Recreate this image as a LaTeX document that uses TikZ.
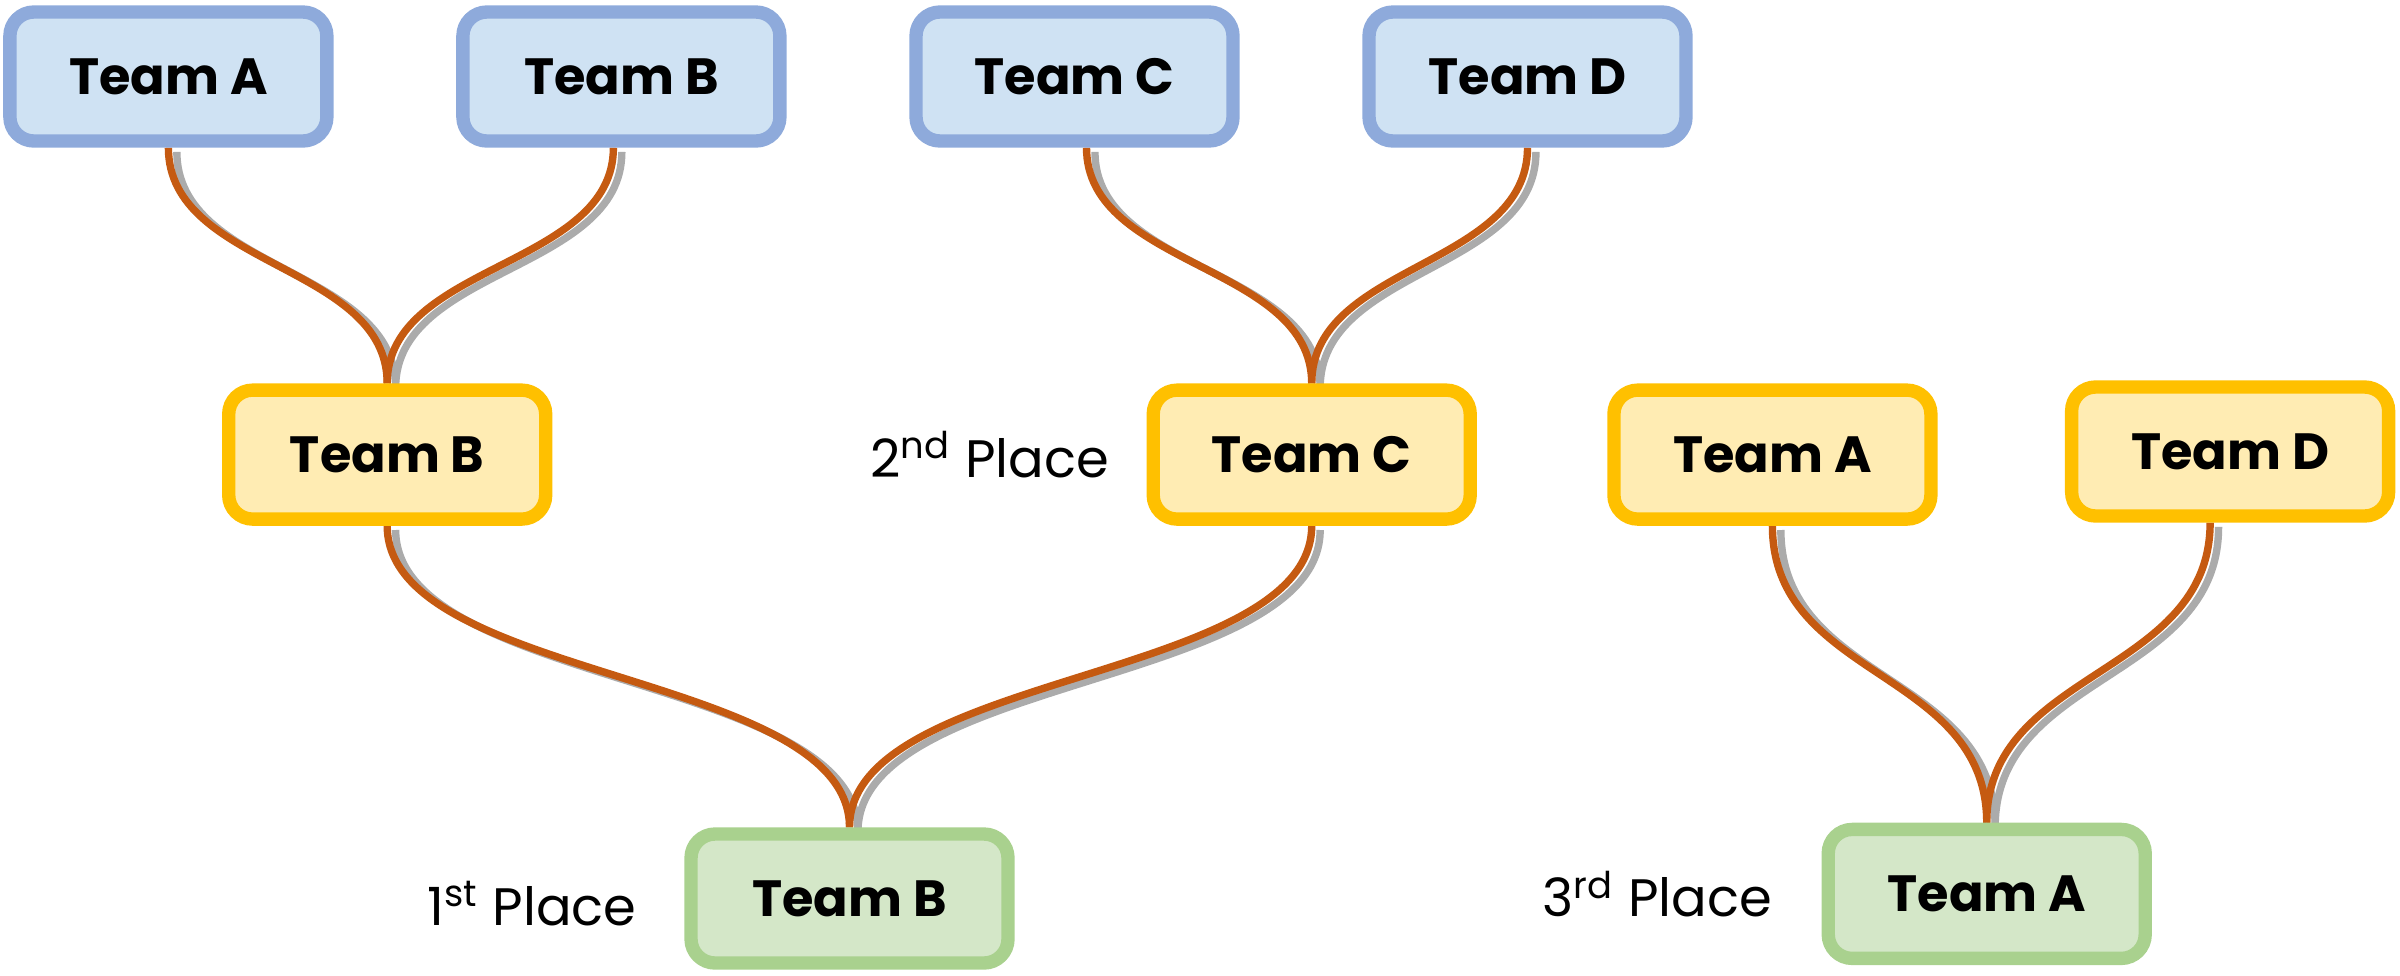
\documentclass[tikz,border=0pt]{standalone}
\usepackage{fontspec}
\setmainfont{Poppins}
\usetikzlibrary{backgrounds}
\definecolor{bluefill}{HTML}{CFE2F3}
\definecolor{blueline}{HTML}{8EAADB}
\definecolor{yelfill}{HTML}{FFECB3}
\definecolor{yelline}{HTML}{FFC000}
\definecolor{grnfill}{HTML}{D4E7C8}
\definecolor{grnline}{HTML}{A9D18E}
\definecolor{linkcol}{HTML}{C55A11}
\definecolor{shadowcol}{HTML}{ABABAB}
\tikzset{
  team/.style={rounded corners=0.24cm, line width=3.8pt, minimum width=3.17cm,
    minimum height=1.29cm, inner sep=0pt, font=\fontsize{14.5}{17}\selectfont\bfseries},
  blueteam/.style={team, draw=blueline, fill=bluefill},
  yelteam/.style={team, draw=yelline, fill=yelfill},
  grnteam/.style={team, draw=grnline, fill=grnfill},
  place/.style={anchor=east, inner sep=0pt, font=\fontsize{15}{18}\selectfont},
  link/.style={draw=linkcol, line width=2.1pt,
    preaction={draw=shadowcol, line width=2.1pt, transform canvas={xshift=2.4pt, yshift=-1.2pt}}}
}
\begin{document}
\begin{tikzpicture}
\useasboundingbox (0,0) rectangle (24,-9.75);
% top row
\node[blueteam] (tA) at (1.684,-0.765) {Team A};
\node[blueteam] (tB) at (6.214,-0.765) {Team B};
\node[blueteam] (tC) at (10.745,-0.765) {Team C};
\node[blueteam] (tD) at (15.275,-0.765) {Team D};
% middle row
\node[yelteam] (mB) at (3.872,-4.546) {Team B};
\node[yelteam] (mC) at (13.117,-4.546) {Team C};
\node[yelteam] (rA) at (17.724,-4.546) {Team A};
\node[yelteam] (rD) at (22.301,-4.515) {Team D};
% bottom row
\node[grnteam] (gB) at (8.495,-8.985) {Team B};
\node[grnteam] (gA) at (19.867,-8.939) {Team A};
% labels
\node[place] (l2) at ([xshift=-0.37cm]mC.west) {2\textsuperscript{nd} Place};
\node[place] (l1) at ([xshift=-0.47cm,yshift=-0.05cm]gB.west) {1\textsuperscript{st} Place};
\node[place] (l3) at ([xshift=-0.49cm]gA.west) {3\textsuperscript{rd} Place};
% links
\begin{scope}[on background layer]
\path[link] (tA.south) to[out=-90,in=90,distance=1.2cm] (mB.north);
\path[link] ([xshift=-0.08cm]tB.south) to[out=-90,in=90,distance=1.2cm] (mB.north);
\path[link] ([xshift=0.12cm]tC.south) to[out=-90,in=90,distance=1.2cm] (mC.north);
\path[link] (tD.south) to[out=-90,in=90,distance=1.2cm] (mC.north);
\path[link] (mB.south) to[out=-90,in=90,distance=1.56cm] (gB.north);
\path[link] (mC.south) to[out=-90,in=90,distance=1.56cm] (gB.north);
\path[link] (rA.south) to[out=-90,in=90,distance=1.54cm] (gA.north);
\path[link] ([xshift=-0.2cm]rD.south) to[out=-90,in=90,distance=1.54cm] (gA.north);
\end{scope}
\end{tikzpicture}
\end{document}
